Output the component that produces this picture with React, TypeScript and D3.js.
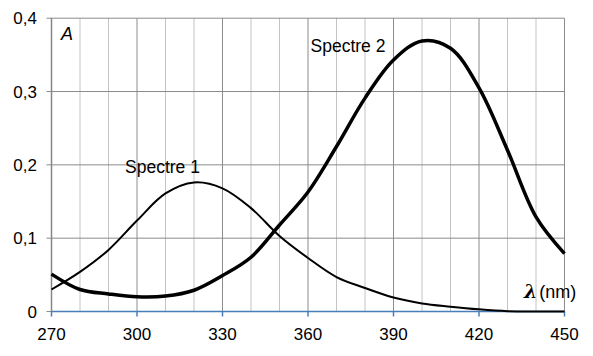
import React from "react";
import * as d3 from "d3";

const lambdas = [270, 280, 290, 300, 310, 320, 330, 340, 350, 360, 370, 380, 390, 400, 410, 420, 430, 440, 450];
const spectre1 = [0.030, 0.054, 0.084, 0.124, 0.161, 0.176, 0.168, 0.141, 0.103, 0.073, 0.047, 0.032, 0.019, 0.011, 0.0066, 0.003, 0.0005, 0, 0];
const spectre2 = [0.051, 0.030, 0.024, 0.020, 0.021, 0.029, 0.049, 0.074, 0.118, 0.163, 0.225, 0.291, 0.343, 0.369, 0.359, 0.305, 0.220, 0.129, 0.079];
const xTicks = [270, 300, 330, 360, 390, 420, 450];
const xMinor = [280, 290, 310, 320, 340, 350, 370, 380, 400, 410, 430, 440];
const yTicks = [0, 0.1, 0.2, 0.3, 0.4];
const yTickLabels = ["0", "0,1", "0,2", "0,3", "0,4"];

const W = 593;
const H = 356;
const left = 51.5;
const right = 564.5;
const top = 18.2;
const bottom = 311.5;
const font = "Liberation Sans, Arial, sans-serif";

export default function App() {
  const x = d3.scaleLinear().domain([270, 450]).range([left, right]);
  const y = d3.scaleLinear().domain([0, 0.4]).range([bottom, top]);
  const line = d3
    .line<number>()
    .x((_, i) => x(lambdas[i]))
    .y((d) => y(d))
    .curve(d3.curveCatmullRom.alpha(0.5));

  return (
    <svg width={W} height={H} style={{ position: "absolute", left: 0, top: 0, background: "#fff" }}>
      <rect width={W} height={H} fill="#fff" />
      {xMinor.map((v) => (
        <line key={"mn" + v} x1={x(v)} x2={x(v)} y1={top} y2={bottom} stroke="#c4c4c4" strokeWidth={1} />
      ))}
      {xTicks.map((v) => (
        <line key={"mj" + v} x1={x(v)} x2={x(v)} y1={top} y2={bottom} stroke="#8c8c8c" strokeWidth={1} />
      ))}
      {yTicks.map((v) => (
        <line key={"h" + v} x1={left - 5} x2={right} y1={y(v)} y2={y(v)} stroke="#8c8c8c" strokeWidth={1} />
      ))}
      <line x1={left} x2={left} y1={top} y2={bottom} stroke="#868686" strokeWidth={1.5} />
      <line x1={left} x2={right} y1={bottom} y2={bottom} stroke="#4a7ebb" strokeWidth={1.5} />
      {xTicks.map((v) => (
        <line key={"t" + v} x1={x(v)} x2={x(v)} y1={bottom} y2={bottom + 5} stroke="#4a7ebb" strokeWidth={1.5} />
      ))}
      {yTicks.map((v, i) => (
        <text key={"yl" + v} x={37} y={y(v) + 6} textAnchor="end" fontFamily={font} fontSize={17} fill="#000">
          {yTickLabels[i]}
        </text>
      ))}
      {xTicks.map((v) => (
        <text key={"xl" + v} x={x(v)} y={340} textAnchor="middle" fontFamily={font} fontSize={17} fill="#000">
          {v}
        </text>
      ))}
      <path d={line(spectre1) || ""} fill="none" stroke="#000" strokeWidth={2} />
      <path d={line(spectre2) || ""} fill="none" stroke="#000" strokeWidth={3.5} />
      <text x={125} y={173} fontFamily={font} fontSize={17.5} fill="#000">Spectre 1</text>
      <text x={310.5} y={51.5} fontFamily={font} fontSize={17.5} fill="#000">Spectre 2</text>
      <text x={61} y={40} fontFamily={font} fontSize={18} fontStyle="italic" fill="#000">A</text>
      <text x={524} y={298} fontFamily={font} fontSize={18} fill="#000">
        <tspan fontWeight="bold" fontStyle="italic" fontFamily="DejaVu Serif, serif" fontSize={19}>λ</tspan>
        <tspan dx={2}>(nm)</tspan>
      </text>
    </svg>
  );
}
